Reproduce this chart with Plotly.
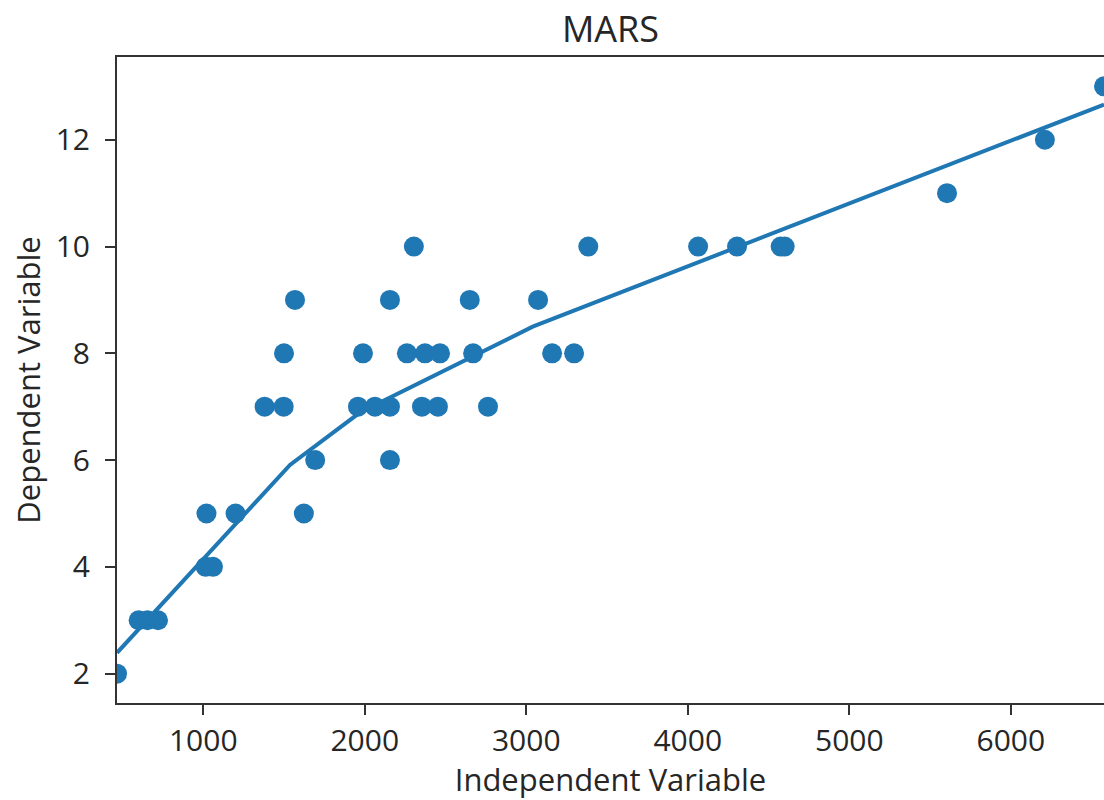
import plotly.graph_objects as go

# observed data
x_obs = [466, 600, 655, 720, 1015, 1060, 1020, 1200, 1623, 1693, 2156,
         1380, 1498, 1958, 2063, 2156, 2354, 2453, 2763,
         1500, 1989, 2261, 2373, 2466, 2671, 3160, 3296,
         1568, 2156, 2650, 3073,
         2304, 3384, 4064, 4305, 4575, 4600,
         5605, 6211, 6577]
y_obs = [2, 3, 3, 3, 4, 4, 5, 5, 5, 6, 6,
         7, 7, 7, 7, 7, 7, 7, 7,
         8, 8, 8, 8, 8, 8, 8, 8,
         9, 9, 9, 9,
         10, 10, 10, 10, 10, 10,
         11, 12, 13]

# MARS fitted curve
x_fit = [466, 1537, 1970, 3040, 6577]
y_fit = [2.39, 5.91, 6.89, 8.50, 12.66]

x_ticks = [1000, 2000, 3000, 4000, 5000, 6000]
y_ticks = [2, 4, 6, 8, 10, 12]

blue = "#1f77b4"
font_family = "Open Sans"

fig = go.Figure()
fig.add_trace(go.Scatter(x=x_obs, y=y_obs, mode="markers",
                         marker=dict(color=blue, size=20, line=dict(width=0)),
                         showlegend=False))
fig.add_trace(go.Scatter(x=x_fit, y=y_fit, mode="lines",
                         line=dict(color=blue, width=4),
                         showlegend=False))

fig.update_layout(
    width=1104, height=800,
    margin=dict(l=117, r=0, t=57, b=97),
    paper_bgcolor="white", plot_bgcolor="white",
    font=dict(family=font_family, size=30, color="#262626"),
    title=dict(text="MARS", x=(117 + 1104) / 2 / 1104, xanchor="center",
               y=1 - 29 / 800, yanchor="middle",
               font=dict(size=36, color="#262626")),
    xaxis=dict(range=[466, 6577], tickvals=x_ticks,
               ticktext=[str(v) for v in x_ticks],
               showgrid=False, zeroline=False,
               showline=True, linecolor="#333333", linewidth=2, mirror=True,
               ticks="outside", ticklen=10, tickwidth=2, tickcolor="#333333",
               tickfont=dict(size=30),
               title=dict(text="Independent Variable", standoff=2,
                          font=dict(size=31))),
    yaxis=dict(range=[1.45, 13.55], tickvals=y_ticks,
               ticktext=[str(v) for v in y_ticks],
               showgrid=False, zeroline=False,
               showline=True, linecolor="#333333", linewidth=2,
               ticks="outside", ticklen=10, tickwidth=2, tickcolor="#333333",
               tickfont=dict(size=30),
               ticklabelstandoff=9,
               title=dict(text="Dependent Variable", standoff=6,
                          font=dict(size=31))),
)

fig.write_html("out.html")
